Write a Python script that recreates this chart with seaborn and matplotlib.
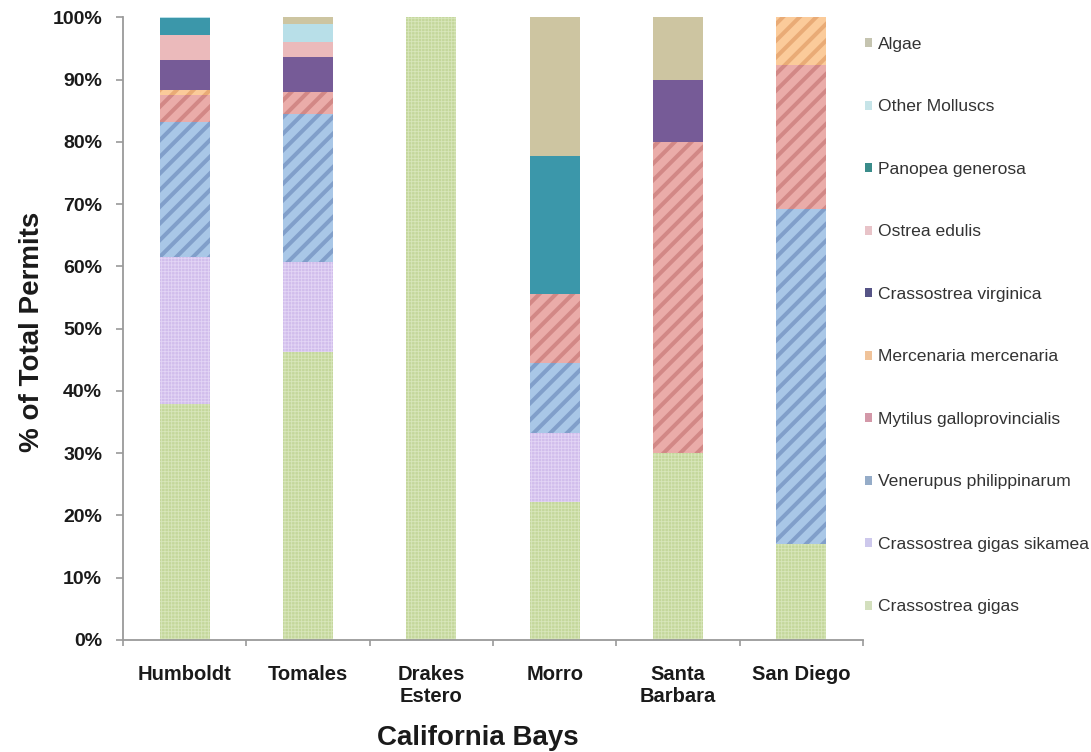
import numpy as np
import pandas as pd
import matplotlib
matplotlib.use("Agg")
import matplotlib.pyplot as plt
from matplotlib.patches import Patch
import seaborn as sns

# Bays along the x axis
bays = ["Humboldt", "Tomales", "Drakes\nEstero", "Morro", "Santa\nBarbara", "San Diego"]

# Share of permits per species (%), bottom of the stack first
crassostrea_gigas       = [37.9, 46.3, 100.0, 22.2, 30.0, 15.4]
crassostrea_sikamea     = [23.6, 14.4,   0.0, 11.1,  0.0,  0.0]
venerupus_philippinarum = [21.7, 23.8,   0.0, 11.1,  0.0, 53.8]
mytilus_galloprov       = [ 4.3,  3.5,   0.0, 11.1, 50.0, 23.1]
mercenaria_mercenaria   = [ 0.8,  0.0,   0.0,  0.0,  0.0,  7.7]
crassostrea_virginica   = [ 4.8,  5.6,   0.0,  0.0, 10.0,  0.0]
ostrea_edulis           = [ 4.0,  2.4,   0.0,  0.0,  0.0,  0.0]
panopea_generosa        = [ 2.8,  0.0,   0.0, 22.2,  0.0,  0.0]
other_molluscs          = [ 0.1,  3.0,   0.0,  0.0,  0.0,  0.0]
algae                   = [ 0.0,  1.0,   0.0, 22.3, 10.0,  0.0]

species = ["Crassostrea gigas", "Crassostrea gigas sikamea", "Venerupus philippinarum",
           "Mytilus galloprovincialis", "Mercenaria mercenaria", "Crassostrea virginica",
           "Ostrea edulis", "Panopea generosa", "Other Molluscs", "Algae"]
values = [crassostrea_gigas, crassostrea_sikamea, venerupus_philippinarum,
          mytilus_galloprov, mercenaria_mercenaria, crassostrea_virginica,
          ostrea_edulis, panopea_generosa, other_molluscs, algae]

# fill colour, pattern colour, hatch, hatch line width
styles = {
    "Crassostrea gigas":         ("#c4d79b", "#d8e6bb", "+++++", 0.6),
    "Crassostrea gigas sikamea": ("#d1bdec", "#e3d5f5", "+++++", 0.6),
    "Venerupus philippinarum":   ("#a9c7e7", "#819fca", "//",    2.9),
    "Mytilus galloprovincialis": ("#eaaca9", "#d28886", "//",    2.9),
    "Mercenaria mercenaria":     ("#fbcb9a", "#e9ab76", "//",    2.9),
    "Crassostrea virginica":     ("#765b97", None, None, 0),
    "Ostrea edulis":             ("#ebbabb", None, None, 0),
    "Panopea generosa":          ("#3b97aa", None, None, 0),
    "Other Molluscs":            ("#b8dfe8", None, None, 0),
    "Algae":                     ("#cdc5a1", None, None, 0),
}
legend_colors = {
    "Crassostrea gigas": "#d3dfbd", "Crassostrea gigas sikamea": "#cdc8ec",
    "Venerupus philippinarum": "#95acc8", "Mytilus galloprovincialis": "#d398a8",
    "Mercenaria mercenaria": "#f0c39a", "Crassostrea virginica": "#565486",
    "Ostrea edulis": "#e8c3c8", "Panopea generosa": "#3a8c8a",
    "Other Molluscs": "#c6e4e8", "Algae": "#c5c4b0",
}

sns.set_style("white")
plt.rcParams["font.family"] = ["Liberation Sans", "DejaVu Sans"]

fig = plt.figure(figsize=(10.91, 7.52), dpi=100)
ax = fig.add_axes([0.1127, 0.149, 0.6783, 0.828])

bottom = np.zeros(len(bays))
for name, vals in zip(species, values):
    face, hcol, hatch, hlw = styles[name]
    df = pd.DataFrame({"bay": bays, "pct": vals})
    with plt.rc_context({"hatch.linewidth": hlw if hlw else 1.0}):
        sns.barplot(data=df, x="bay", y="pct", order=bays, color=face,
                    saturation=1, width=0.405, bottom=bottom.copy(), ax=ax,
                    linewidth=0, errorbar=None)
        for bar in ax.containers[-1]:
            bar.set_facecolor(face)
            if hatch:
                bar.set_hatch(hatch)
                bar.set_edgecolor(hcol)
                bar.set_linewidth(0)
                if hasattr(bar, "set_hatch_linewidth"):
                    bar.set_hatch_linewidth(hlw)
    bottom += np.array(vals)

ax.set_xlim(-0.5, len(bays) - 0.5)
ax.set_ylim(0, 100)
ax.set_yticks(np.arange(0, 101, 10))
ax.set_yticklabels([f"{v}%" for v in range(0, 101, 10)])
ax.set_xticks(np.arange(len(bays)))
ax.set_xticklabels(bays, linespacing=1.2)
ax.set_xticks(np.arange(-0.5, len(bays), 1.0), minor=True)

for s in ["top", "right"]:
    ax.spines[s].set_visible(False)
for s in ["left", "bottom"]:
    ax.spines[s].set_color("#9a9a9a")
    ax.spines[s].set_linewidth(1.3)

ax.tick_params(axis="y", which="major", direction="out", length=5, width=1.2,
               color="#9a9a9a", pad=10, labelsize=14, labelcolor="#1a1a1a", left=True)
ax.tick_params(axis="x", which="major", length=0, pad=18, labelsize=14.5,
               labelcolor="#1a1a1a")
ax.tick_params(axis="x", which="minor", direction="out", length=4, width=1.2,
               color="#9a9a9a", bottom=True)
for lab in ax.get_yticklabels() + ax.get_xticklabels():
    lab.set_fontweight("bold")

ax.set_ylabel("% of Total Permits", fontsize=20, fontweight="bold", color="#1a1a1a")
ax.yaxis.set_label_coords(-0.106, 0.495)
ax.set_xlabel("California Bays", fontsize=20, fontweight="bold", color="#1a1a1a")
ax.xaxis.set_label_coords(0.48, -0.137)

handles = [Patch(facecolor=legend_colors[n], edgecolor="none", label=n)
           for n in reversed(species)]
fig.legend(handles=handles, loc="upper left", bbox_to_anchor=(0.7925, 0.951),
           frameon=False, fontsize=12.6, labelcolor="#333333", labelspacing=2.715,
           handlelength=0.43, handleheight=0.43, handletextpad=0.35, borderpad=0,
           borderaxespad=0)

fig.savefig("out.png", dpi=100)
